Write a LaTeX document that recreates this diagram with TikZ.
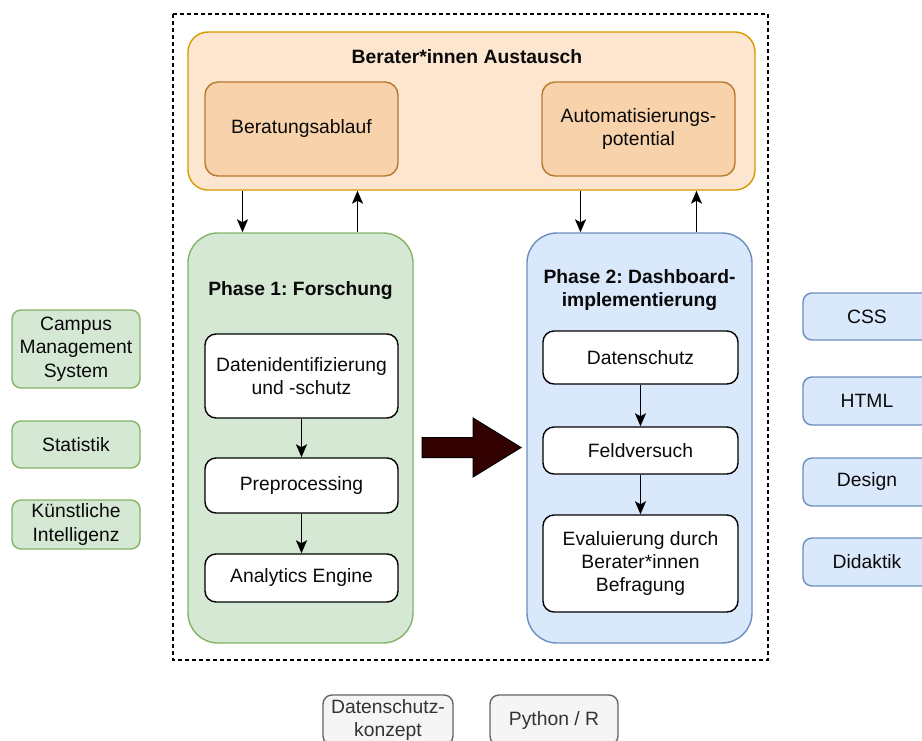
\documentclass[tikz,border=0pt]{standalone}
\usepackage{fontspec}
\setmainfont{Liberation Sans}
\usetikzlibrary{arrows.meta}
\definecolor{orfill}{HTML}{FCE6CF}
\definecolor{orstroke}{HTML}{D79B00}
\definecolor{orin}{HTML}{F7D2AA}
\definecolor{orinstroke}{HTML}{B8782E}
\definecolor{grfill}{HTML}{D5E8D4}
\definecolor{grstroke}{HTML}{82B366}
\definecolor{blfill}{HTML}{DAE8FC}
\definecolor{blstroke}{HTML}{6C8EBF}
\definecolor{gyfill}{HTML}{F5F5F5}
\definecolor{gystroke}{HTML}{666666}
\definecolor{gytext}{HTML}{333333}
\definecolor{bigarrow}{HTML}{330000}
\definecolor{txt}{HTML}{0A0A0A}
\tikzset{
  base/.style={inner sep=0pt, align=center, line width=1.4pt, text=txt,
    font=\fontsize{19.3}{23.5}\selectfont},
  container/.style={base, rounded corners=20pt, fill=orfill, draw=orstroke},
  orbox/.style={base, rounded corners=13pt, fill=orin, draw=orinstroke},
  phase1/.style={base, rounded corners=30pt, fill=grfill, draw=grstroke},
  phase2/.style={base, rounded corners=30pt, fill=blfill, draw=blstroke},
  whitebox/.style={base, rounded corners=11pt, fill=white, draw=black},
  gbox/.style={base, rounded corners=9pt, fill=grfill, draw=grstroke, minimum width=128pt},
  bbox/.style={base, rounded corners=9pt, fill=blfill, draw=blstroke, minimum width=128pt},
  graybox/.style={base, rounded corners=9pt, fill=gyfill, draw=gystroke, text=gytext, minimum height=50pt},
  titletext/.style={base, font=\fontsize{19.3}{23.5}\selectfont\bfseries},
  arr/.style={line width=1.5pt, draw=black, -{Stealth[length=13pt,width=11pt,inset=3pt]}},
}
\begin{document}
\frenchspacing
\begin{tikzpicture}[x=1pt,y=-1pt]
\clip (0,0) rectangle (922,740);
\fill[white] (0,0) rectangle (922,740);

% dashed frame
\draw[line width=1.3pt, dash pattern=on 4pt off 3pt] (173,14) rectangle (768,660);

% top container
\node[container, minimum width=567pt, minimum height=158pt] (aus) at (471.5,111) {};
\node[titletext] (austitle) at (467,57) {Berater*innen Austausch};
\node[orbox, minimum width=193pt, minimum height=94pt] (bera) at (301.5,129) {Beratungsablauf};
\node[orbox, minimum width=193pt, minimum height=94pt] (auto) at (638.5,129) {Automatisierungs-\\potential};

% phase 1
\node[phase1, minimum width=225pt, minimum height=410pt] (p1) at (300.5,438) {};
\node[titletext] (p1title) at (300.5,291) {Phase 1: Forschung};
\node[whitebox, minimum width=193pt, minimum height=84pt] (d1) at (301.5,376) {Datenidentifizierung\\und -schutz};
\node[whitebox, minimum width=193pt, minimum height=55pt] (d2) at (301.5,485.5) {Preprocessing};
\node[whitebox, minimum width=193pt, minimum height=48pt] (d3) at (301.5,578) {Analytics Engine};
\draw[arr] (d1.south) -- (d2.north);
\draw[arr] (d2.south) -- (d3.north);

% phase 2
\node[phase2, minimum width=225pt, minimum height=410pt] (p2) at (639.5,438) {};
\node[titletext] (p2title) at (639.5,290) {Phase 2: Dashboard-\\implementierung};
\node[whitebox, minimum width=195pt, minimum height=53pt] (e1) at (640.5,357.5) {Datenschutz};
\node[whitebox, minimum width=195pt, minimum height=47pt] (e2) at (640.5,450.5) {Feldversuch};
\node[whitebox, minimum width=195pt, minimum height=97pt] (e3) at (640.5,563.5) {Evaluierung durch\\Berater*innen\\Befragung};
\draw[arr] (e1.south) -- (e2.north);
\draw[arr] (e2.south) -- (e3.north);

% arrows between container and phases
\draw[arr] ([xshift=-58pt]p1.north |- aus.south) -- ([xshift=-58pt]p1.north);
\draw[arr] ([xshift=57pt]p1.north) -- ([xshift=57pt]p1.north |- aus.south);
\draw[arr] ([xshift=-59pt]p2.north |- aus.south) -- ([xshift=-59pt]p2.north);
\draw[arr] ([xshift=57pt]p2.north) -- ([xshift=57pt]p2.north |- aus.south);

% big arrow
\draw[fill=bigarrow, draw=black, line width=1pt, line join=miter]
  (422,437.5) -- (473,437.5) -- (473,418) -- (521,447.5) -- (473,477) -- (473,457.5) -- (422,457.5) -- cycle;

% left boxes
\node[gbox, minimum height=78pt] (cms) at (76,349) {Campus\\Management\\System};
\node[gbox, minimum height=47pt] (stat) at (76,444.5) {Statistik};
\node[gbox, minimum height=49pt] (ki) at (76,524.5) {Künstliche\\Intelligenz};

% right boxes
\node[bbox, minimum height=47pt] (css) at (867,316.5) {CSS};
\node[bbox, minimum height=48pt] (html) at (867,401) {HTML};
\node[bbox, minimum height=48pt] (design) at (867,482) {Design};
\node[bbox, minimum height=48pt] (dida) at (867,562) {Didaktik};

% bottom boxes
\node[graybox, minimum width=130pt] (dsk) at (388,720) {Datenschutz-\\konzept};
\node[graybox, minimum width=128pt] (py) at (554,720) {Python / R};
\end{tikzpicture}
\end{document}
